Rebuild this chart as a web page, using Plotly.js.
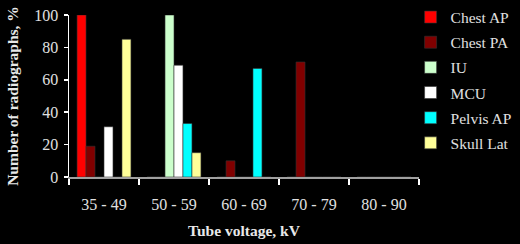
<!DOCTYPE html>
<html><head><meta charset="utf-8">
<script src="https://cdn.plot.ly/plotly-3.0.1.min.js"></script>
<style>body{margin:0;background:#000}#chart{width:520px;height:244px}</style>
</head><body><div id="chart"></div>
<script>
const categories = ["35 - 49", "50 - 59", "60 - 69", "70 - 79", "80 - 90"];
const seriesNames = ["Chest AP", "Chest PA", "IU", "MCU", "Pelvis AP", "Skull Lat"];
const chestAP  = [100, 0, 0, 0, 0];
const chestPA  = [19, 0, 10, 71, 0];
const iu       = [0, 100, 0, 0, 0];
const mcu      = [31, 69, 0, 0, 0];
const pelvisAP = [0, 33, 67, 0, 0];
const skullLat = [85, 15, 0, 0, 0];
const colors = ["#ff0000", "#800000", "#ccffcc", "#ffffff", "#00ffff", "#ffff99"];
const values = [chestAP, chestPA, iu, mcu, pelvisAP, skullLat];

const font = "Liberation Serif, Times New Roman, serif";
const traces = seriesNames.map((n, i) => ({
  type: "bar", name: n, x: categories, y: values[i],
  legendgroup: "g" + i,
  marker: {color: colors[i], line: {color: "#333", width: 0.6}},
  hoverinfo: "none"
}));

const layout = {
  width: 520, height: 244,
  paper_bgcolor: "#000", plot_bgcolor: "#000",
  margin: {l: 69, r: 101, t: 15, b: 67, autoexpand: false},
  barmode: "group", bargap: 0.23, bargroupgap: 0,
  font: {family: font, color: "#e0e0e0", size: 15},
  showlegend: true,
  legend: {x: 0.976, xref: "paper", xanchor: "left", yref: "container", y: 0.998, yanchor: "top",
           font: {family: font, size: 15.5, color: "#e0e0e0"},
           tracegroupgap: 2, itemwidth: 30, bgcolor: "rgba(0,0,0,0)",
           maxheight: 240},
  xaxis: {
    type: "category", range: [-0.5, 4.5],
    showline: true, linecolor: "#a0a0a0", linewidth: 2,
    ticks: "outside", tickson: "boundaries", ticklen: 6, tickcolor: "#ffffff", tickwidth: 1.5,
    ticklabelstandoff: 12,
    showgrid: false, zeroline: false,
    tickfont: {family: font, size: 16, color: "#e0e0e0"},
    title: {text: "<b>Tube voltage, kV</b>", font: {family: font, size: 15.5, color: "#e8e8e8"}, standoff: 13}
  },
  yaxis: {
    range: [0, 100], tickvals: [0, 20, 40, 60, 80, 100],
    showline: true, linecolor: "#ffffff", linewidth: 1.5,
    ticks: "outside", ticklen: 4, tickcolor: "#ffffff", tickwidth: 1.5,
    ticklabelstandoff: 2,
    showgrid: false, zeroline: false,
    tickfont: {family: font, size: 16, color: "#e0e0e0"},
    title: {text: "<b>Number of radiographs, %</b>", font: {family: font, size: 15.5, color: "#e8e8e8"}, standoff: 12}
  }
};
Plotly.newPlot("chart", traces, layout, {staticPlot: true, displayModeBar: false});
</script>
</body></html>
